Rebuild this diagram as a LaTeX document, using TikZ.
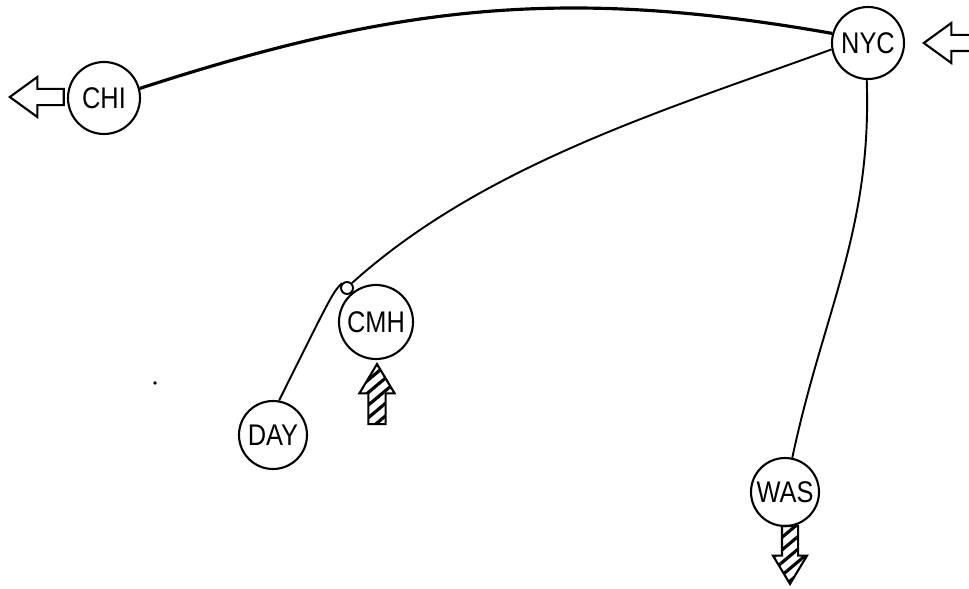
\documentclass[tikz,border=0pt]{standalone}
\usepackage{fontspec}
\setmainfont{Liberation Sans}
\newfontfamily\cityfont[FakeStretch=0.85]{Liberation Sans}
\usetikzlibrary{shapes.arrows,patterns.meta}

\tikzset{
  city/.style={draw, circle, line width=1.2pt, minimum size=72*0.02cm, inner sep=0pt, font=\cityfont\fontsize{17}{17}\selectfont},
  hollowarrow/.style={draw, single arrow, anchor=tip, line width=1.2pt, inner sep=7*0.02cm, single arrow head extend=12*0.02cm, single arrow tip angle=72},
  hatcharrow/.style={hollowarrow, inner sep=7*0.02cm, single arrow head extend=9*0.02cm, single arrow tip angle=62, pattern={Lines[angle=40, distance=5.5pt, line width=1.8pt]}}
}

\begin{document}
\begin{tikzpicture}[x=0.02cm, y=-0.02cm]
\useasboundingbox (0,0) rectangle (969,588);
\node[city] (NYC) at (868,43) {NYC};
\node[city] (CHI) at (104,98) {CHI};
\node[city, minimum size=74*0.02cm] (CMH) at (376,322) {CMH};
\node[city, minimum size=68*0.02cm] (DAY) at (273,435) {DAY};
\node[city, minimum size=68*0.02cm] (WAS) at (785,492) {WAS};
\node[draw, circle, line width=1.1pt, minimum size=12*0.02cm, inner sep=0pt] (knot) at (347,288) {};
\fill (155,383) circle (1.8);
\draw[line width=1.8pt] (CHI.15) to[out=18, in=170] (NYC.165);
\draw[line width=1.1pt] (NYC.190) to[out=200, in=42, looseness=0.85] (knot.north east);
\draw[line width=1.1pt] (DAY.80) .. controls (333,292) .. (knot.north west);
\draw[line width=1.1pt] (NYC.268) to[out=-88, in=78] (WAS.78);
\node[hollowarrow, minimum height=54*0.02cm, shape border rotate=180] (chiout) at (8,97) {};
\node[hollowarrow, minimum height=50*0.02cm, shape border rotate=180] (nycin) at (922,43) {};
\node[hatcharrow, minimum height=60*0.02cm, shape border rotate=90] (cmhin) at (377,361) {};
\node[hatcharrow, minimum height=58*0.02cm, shape border rotate=270] (wasout) at (790,586) {};
\end{tikzpicture}
\end{document}
